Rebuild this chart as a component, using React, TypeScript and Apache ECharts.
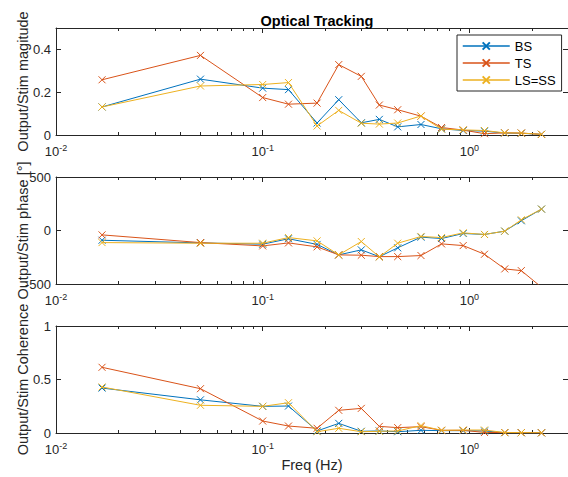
import React, { useEffect, useRef } from 'react';
import * as echarts from 'echarts';

const freqs = [0.0167, 0.05, 0.1, 0.1333, 0.1833, 0.2333, 0.3, 0.3667, 0.45, 0.5833, 0.7333, 0.9333, 1.1833, 1.4833, 1.7833, 2.2333];
const seriesNames = ['BS', 'TS', 'LS=SS'];
const seriesColors = ['#0072BD', '#D95319', '#EDB120'];

const magBS = [0.131, 0.261, 0.219, 0.212, 0.056, 0.165, 0.057, 0.073, 0.038, 0.049, 0.029, 0.021, 0.018, 0.009, 0.008, 0.003];
const magTS = [0.258, 0.372, 0.175, 0.144, 0.149, 0.329, 0.274, 0.140, 0.118, 0.088, 0.035, 0.023, 0.006, 0.010, 0.009, 0.003];
const magLS = [0.131, 0.229, 0.236, 0.245, 0.042, 0.115, 0.055, 0.051, 0.056, 0.089, 0.027, 0.024, 0.021, 0.010, 0.009, 0.003];

const phaseBS = [-91, -116, -128, -77, -130, -228, -181, -245, -162, -62, -75, -28, -37, -6, 91, 200];
const phaseTS = [-41, -113, -144, -116, -153, -228, -231, -244, -244, -234, -125, -141, -222, -359, -375, -530];
const phaseLS = [-113, -119, -119, -66, -97, -228, -103, -247, -119, -56, -66, -22, -37, -6, 100, 200];

const cohBS = [0.42, 0.31, 0.249, 0.252, 0.019, 0.09, 0.016, 0.019, 0.012, 0.025, 0.022, 0.022, 0.019, 0.003, 0.003, 0.002];
const cohTS = [0.614, 0.414, 0.112, 0.065, 0.044, 0.212, 0.23, 0.062, 0.05, 0.059, 0.025, 0.025, 0.005, 0.004, 0.003, 0.002];
const cohLS = [0.43, 0.259, 0.249, 0.283, 0.012, 0.044, 0.012, 0.016, 0.019, 0.069, 0.025, 0.028, 0.028, 0.004, 0.003, 0.002];

const minorTicks = [0.02, 0.03, 0.04, 0.05, 0.06, 0.07, 0.08, 0.09, 0.2, 0.3, 0.4, 0.5, 0.6, 0.7, 0.8, 0.9, 2];

const yNames = ['Output/Stim magitude', 'Output/Stim phase [°]', 'Output/Stim Coherence'];
const yMins = [0, -500, 0];
const yMaxs = [0.5, 500, 1];
const yIntervals = [0.2, 500, 0.5];
const panelData = [
  [magBS, magTS, magLS],
  [phaseBS, phaseTS, phaseLS],
  [cohBS, cohTS, cohLS],
];

const X_MIN = 0.01;
const X_MAX = 3;
const AXIS_COLOR = '#262626';
const FONT = '"Liberation Sans", Arial, Helvetica, sans-serif';

const gridTops = [28, 177, 326];
const gridHeight = 107;

export default function App() {
  const ref = useRef<HTMLDivElement>(null);

  useEffect(() => {
    if (!ref.current) return;
    const chart = echarts.init(ref.current, null, { renderer: 'svg' });

    const grids = gridTops.map((t) => ({ left: 56, top: t, width: 513, height: gridHeight }));

    const xAxes: any[] = [];
    const yAxes: any[] = [];
    gridTops.forEach((_, i) => {
      const base = {
        type: 'log',
        logBase: 10,
        min: X_MIN,
        max: X_MAX,
        gridIndex: i,
        axisLine: { show: true, onZero: false, lineStyle: { color: AXIS_COLOR, width: 1 } },
        axisTick: { show: true, inside: true, length: 5, lineStyle: { color: AXIS_COLOR } },
        splitLine: { show: false },
      };
      xAxes.push({
        ...base,
        position: 'bottom',
        name: i === 2 ? 'Freq (Hz)' : '',
        nameLocation: 'middle',
        nameGap: 24,
        nameMoveOverlap: false,
        nameTextStyle: { fontSize: 14.5, color: AXIS_COLOR, fontFamily: FONT },
        axisLabel: {
          show: true,
          margin: 8,
          showMaxLabel: false,
          formatter: (v: number) => {
            const e = Math.round(Math.log10(v));
            if (Math.abs(Math.log10(v) - e) > 1e-6) return '';
            return `{b|10}{s|${e}}`;
          },
          rich: {
            b: { fontSize: 13, color: AXIS_COLOR, fontFamily: FONT },
            s: { fontSize: 9, color: AXIS_COLOR, fontFamily: FONT, padding: [0, 0, 8, 0] },
          },
        },
      });
      xAxes.push({ ...base, position: 'top', axisLabel: { show: false } });
      const ybase = {
        type: 'value',
        gridIndex: i,
        min: yMins[i],
        max: yMaxs[i],
        interval: yIntervals[i],
        axisLine: { show: true, onZero: false, lineStyle: { color: AXIS_COLOR, width: 1 } },
        axisTick: { show: true, inside: true, length: 5, lineStyle: { color: AXIS_COLOR } },
        splitLine: { show: false },
      };
      yAxes.push({
        ...ybase,
        position: 'left',
        name: yNames[i],
        nameLocation: 'middle',
        nameGap: 26,
        nameMoveOverlap: false,
        nameTextStyle: { fontSize: 14.5, color: AXIS_COLOR, fontFamily: FONT },
        axisLabel: {
          show: true,
          margin: 5,
          showMaxLabel: i !== 0,
          fontSize: 13,
          color: AXIS_COLOR,
          fontFamily: FONT,
        },
      });
      yAxes.push({ ...ybase, position: 'right', axisLabel: { show: false } });
    });

    const series: any[] = [];
    panelData.forEach((group, i) => {
      group.forEach((vals, s) => {
        series.push({
          type: 'line',
          name: seriesNames[s],
          xAxisIndex: 2 * i,
          yAxisIndex: 2 * i,
          data: freqs.map((f, k) => [f, vals[k]]),
          symbol: 'path://M0,0L10,10M10,0L0,10',
          symbolSize: 7,
          showSymbol: true,
          clip: true,
          lineStyle: { color: seriesColors[s], width: 1 },
          itemStyle: { color: seriesColors[s], borderColor: seriesColors[s], borderWidth: 1 },
          emphasis: { disabled: true },
          z: 3 + s,
        });
      });
      series.push({
        type: 'custom',
        name: 'minor' + i,
        xAxisIndex: 2 * i,
        yAxisIndex: 2 * i,
        silent: true,
        data: minorTicks.map((m) => [m, yMins[i]]),
        encode: { x: 0, y: 1 },
        renderItem: (params: any, api: any) => {
          const cs = params.coordSys;
          const x = Math.round(api.coord([api.value(0), yMins[i]])[0]) + 0.5;
          const yb = cs.y + cs.height;
          const yt = cs.y;
          const style = { stroke: AXIS_COLOR, lineWidth: 1 };
          return {
            type: 'group',
            children: [
              { type: 'line', shape: { x1: x, y1: yb, x2: x, y2: yb - 3 }, style },
              { type: 'line', shape: { x1: x, y1: yt, x2: x, y2: yt + 3 }, style },
            ],
          };
        },
        z: 2,
      });
    });

    chart.setOption({
      animation: false,
      backgroundColor: '#ffffff',
      textStyle: { fontFamily: FONT },
      title: {
        text: 'Optical Tracking',
        left: 312,
        textAlign: 'center',
        top: 8,
        textStyle: { fontSize: 14.5, fontWeight: 'bold', color: '#000', fontFamily: FONT },
      },
      legend: {
        data: seriesNames,
        orient: 'vertical',
        left: 457,
        top: 35,
        itemWidth: 47,
        itemHeight: 9,
        itemGap: 3,
        padding: [4, 6, 4, 5],
        borderColor: AXIS_COLOR,
        borderWidth: 1,
        backgroundColor: '#ffffff',
        lineStyle: { width: 1.5 },
        textStyle: { fontSize: 13, color: '#000', fontFamily: FONT, lineHeight: 14 },
        selectedMode: false,
      },
      grid: grids,
      xAxis: xAxes,
      yAxis: yAxes,
      series,
    });

    return () => chart.dispose();
  }, []);

  return <div ref={ref} style={{ position: 'absolute', left: 0, top: 0, width: 568, height: 477 }} />;
}
